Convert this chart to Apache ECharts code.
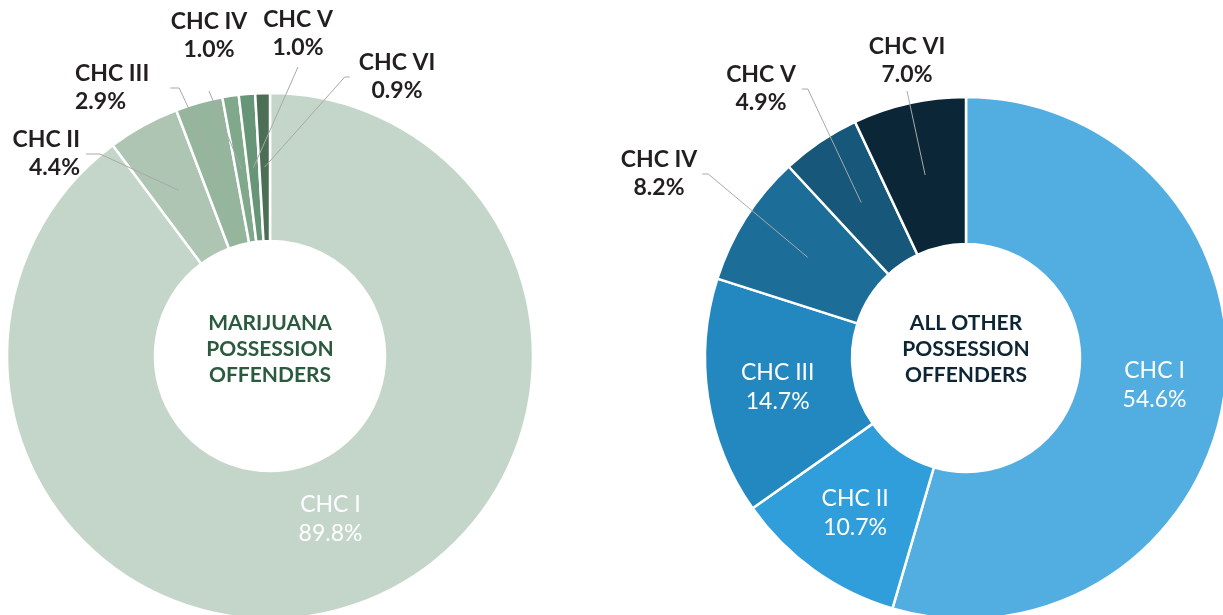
<!DOCTYPE html>
<html><head><meta charset="utf-8">
<script src="https://cdn.jsdelivr.net/npm/echarts@6/dist/echarts.min.js"></script>
<style>html,body{margin:0;padding:0;background:#fff}#chart{width:1223px;height:615px}</style>
</head><body><div id="chart"></div>
<script>
// ---- data ----
const categories = ['CHC I', 'CHC II', 'CHC III', 'CHC IV', 'CHC V', 'CHC VI'];
const marijuanaShares = [89.8, 4.4, 2.9, 1.0, 1.0, 0.9];
const otherShares = [54.6, 10.7, 14.7, 8.2, 4.9, 7.0];
const marijuanaTitle = 'MARIJUANA\nPOSSESSION\nOFFENDERS';
const otherTitle = 'ALL OTHER\nPOSSESSION\nOFFENDERS';

// ---- styles ----
const marijuanaColors = ['#c4d6c9', '#adc5b2', '#95b59c', '#80a88a', '#679577', '#4b6e55'];
const otherColors = ['#52aee0', '#2f9edb', '#2388c0', '#1c6e99', '#17587a', '#0b2636'];
const FONT = 'Lato, "Open Sans", sans-serif';
const INSIDE_MIN = 10; // slices with at least this share carry their label inside

const leftGeo = { center: [270, 356], inner: 115, outer: 263, textColor: '#2b5a3e', labelDy: -19 };
const rightGeo = { center: [966, 358], inner: 114, outer: 261, textColor: '#0d2534', labelDy: 0 };

// outside label placement (by category index)
const leftLabelPos = {
  1: { x: 80, y: 154, align: 'right', side: 'right', gap: 6, run: 14 },
  2: { x: 75, y: 88, align: 'left', side: 'right', gap: 21, run: 9 },
  3: { x: 209, y: 36, align: 'center', side: 'bottom', gap: 27 },
  4: { x: 298, y: 34, align: 'center', side: 'bottom', gap: 5 },
  5: { x: 397, y: 77, align: 'center', side: 'left', gap: 9, run: 5 }
};
const rightLabelPos = {
  3: { x: 659, y: 174, align: 'center', side: 'right', gap: 5, run: 6 },
  4: { x: 761, y: 89, align: 'center', side: 'right', gap: 6, run: 6 },
  5: { x: 907, y: 61, align: 'center', side: 'bottom', gap: 2 }
};

function pct(v) { return v.toFixed(1) + '%'; }

function outsideLayout(posMap) {
  return function (p) {
    const cfg = posMap[p.dataIndex];
    if (!cfg) return {};
    const w = p.labelRect.width, h = p.labelRect.height;
    let lx;
    if (cfg.align === 'left') lx = cfg.x;
    else if (cfg.align === 'right') lx = cfg.x - w;
    else lx = cfg.x - w / 2;
    const anchor = p.labelLinePoints ? p.labelLinePoints[0] : [cfg.x, cfg.y];
    let end, bend;
    if (cfg.side === 'right') { end = [lx + w + cfg.gap, cfg.y]; bend = [end[0] + cfg.run, cfg.y]; }
    else if (cfg.side === 'left') { end = [lx - cfg.gap, cfg.y]; bend = [end[0] - cfg.run, cfg.y]; }
    else { end = [cfg.x, cfg.y + h / 2 + cfg.gap]; bend = end.slice(); }
    return { x: cfg.x, y: cfg.y, align: cfg.align, verticalAlign: 'middle', labelLinePoints: [anchor, bend, end] };
  };
}

function donutSeries(values, colors, geo, posMap) {
  const ringSeries = {
    type: 'pie',
    center: geo.center,
    radius: [geo.inner, geo.outer],
    startAngle: 90,
    clockwise: true,
    avoidLabelOverlap: false,
    silent: true,
    emphasis: { disabled: true },
    itemStyle: { borderColor: '#ffffff', borderWidth: 2.5 },
    label: {
      show: true, position: 'inside', color: '#ffffff',
      fontFamily: FONT, fontSize: 23, fontWeight: 'normal', lineHeight: 29,
      formatter: p => p.name + '\n' + pct(p.value)
    },
    labelLine: { show: false },
    labelLayout: p => (p.dataIndex === 0 ? { dy: geo.labelDy } : {}),
    data: categories.map((c, i) => ({
      name: c, value: values[i],
      itemStyle: { color: colors[i] },
      label: { show: values[i] >= INSIDE_MIN }
    }))
  };
  // transparent guide ring: its outer edge lies at mid-ring, so leader lines start inside the slices
  const guideSeries = {
    type: 'pie',
    center: geo.center,
    radius: [0, (geo.inner + geo.outer) / 2],
    startAngle: 90,
    clockwise: true,
    avoidLabelOverlap: false,
    silent: true,
    z: 3,
    emphasis: { disabled: true },
    itemStyle: { color: 'rgba(0,0,0,0)', borderWidth: 0 },
    label: {
      show: true, position: 'outside', color: '#231f20',
      fontFamily: FONT, fontSize: 23, fontWeight: 'bold', lineHeight: 28,
      formatter: p => p.name + '\n' + pct(p.value)
    },
    labelLine: { show: true, smooth: false, lineStyle: { color: '#a9a9a9', width: 1 } },
    labelLayout: outsideLayout(posMap),
    data: categories.map((c, i) => ({
      name: c, value: values[i],
      label: { show: values[i] < INSIDE_MIN },
      labelLine: { show: values[i] < INSIDE_MIN }
    }))
  };
  return [ringSeries, guideSeries];
}

const chart = echarts.init(document.getElementById('chart'), null, { renderer: 'canvas' });
chart.setOption({
  animation: false,
  backgroundColor: '#ffffff',
  series: [
    ...donutSeries(marijuanaShares, marijuanaColors, leftGeo, leftLabelPos),
    ...donutSeries(otherShares, otherColors, rightGeo, rightLabelPos)
  ],
  graphic: [
    {
      type: 'text', x: leftGeo.center[0], y: leftGeo.center[1] - 7, silent: true,
      style: { text: marijuanaTitle, fill: leftGeo.textColor, fontFamily: FONT, fontSize: 21, fontWeight: 'bold',
        lineHeight: 26, align: 'center', verticalAlign: 'middle' }
    },
    {
      type: 'text', x: rightGeo.center[0], y: rightGeo.center[1] - 9, silent: true,
      style: { text: otherTitle, fill: rightGeo.textColor, fontFamily: FONT, fontSize: 21, fontWeight: 'bold',
        lineHeight: 26, align: 'center', verticalAlign: 'middle' }
    }
  ]
});
</script></body></html>
